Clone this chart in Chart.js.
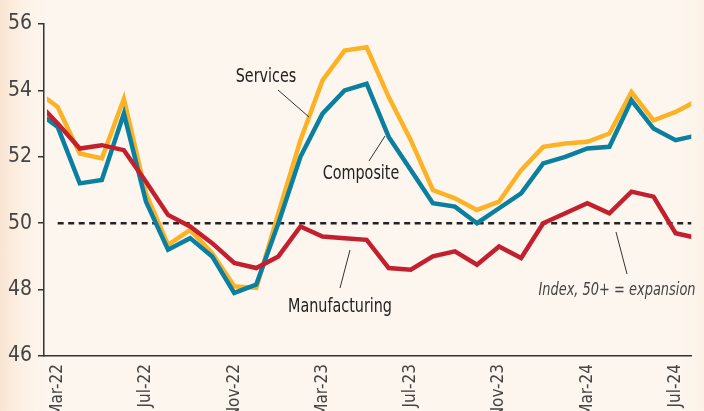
<!DOCTYPE html>
<html>
<head>
<meta charset="utf-8">
<script src="https://cdn.jsdelivr.net/npm/chart.js@4.4.1/dist/chart.umd.min.js"></script>
<style>
  html, body { margin: 0; padding: 0; }
  body {
    width: 704px; height: 411px; overflow: hidden;
    background: linear-gradient(to right, #f9e5d1 0px, #fcf1e6 22px, #fdf6ef 50px, #fdf6ef 675px, #fcf2e8 704px);
  }
</style>
</head>
<body>
<canvas id="pmiChart" width="704" height="411"></canvas>
<script>
// monthly PMI readings, Feb-22 .. Aug-24 (first and last are cut by the frame)
const months = ['Feb-22', 'Mar-22', 'Apr-22', 'May-22', 'Jun-22', 'Jul-22', 'Aug-22', 'Sep-22', 'Oct-22', 'Nov-22', 'Dec-22',
  'Jan-23', 'Feb-23', 'Mar-23', 'Apr-23', 'May-23', 'Jun-23', 'Jul-23', 'Aug-23', 'Sep-23', 'Oct-23', 'Nov-23', 'Dec-23',
  'Jan-24', 'Feb-24', 'Mar-24', 'Apr-24', 'May-24', 'Jun-24', 'Jul-24', 'Aug-24'];

const services = [54.0, 53.5, 52.1, 51.95, 53.75, 50.9, 49.35, 49.8, 49.1, 48.1, 48.05,
  50.3, 52.5, 54.3, 55.2, 55.3, 53.8, 52.5, 51.0, 50.75, 50.4, 50.65, 51.6,
  52.3, 52.4, 52.45, 52.7, 53.95, 53.1, 53.35, 53.7];

const composite = [53.4, 52.9, 51.2, 51.3, 53.3, 50.65, 49.2, 49.55, 49.0, 47.9, 48.15,
  50.0, 52.0, 53.3, 54.0, 54.2, 52.6, 51.6, 50.6, 50.5, 50.0, 50.45, 50.9,
  51.8, 52.0, 52.25, 52.3, 53.7, 52.85, 52.5, 52.65];

const manufacturing = [53.7, 53.0, 52.25, 52.35, 52.2, 51.25, 50.25, 49.9, 49.4, 48.8, 48.65,
  49.0, 49.9, 49.6, 49.55, 49.5, 48.65, 48.6, 49.0, 49.15, 48.75, 49.3, 48.95,
  50.0, 50.3, 50.6, 50.3, 50.95, 50.8, 49.7, 49.55];

const threshold = 50;
const yTicks = [46, 48, 50, 52, 54, 56];
const xTickMonths = ['Mar-22', 'Jul-22', 'Nov-22', 'Mar-23', 'Jul-23', 'Nov-23', 'Mar-24', 'Jul-24'];

const FONT = "'Liberation Sans Narrow', 'DejaVu Sans Condensed', 'Noto Sans', sans-serif";
const toPoints = arr => arr.map((v, i) => ({ x: i, y: v }));

// labels and leader lines drawn over the plot
const notes = [
  { text: 'Services', x: 266, y: 82, line: [278, 90, 309, 117] },
  { text: 'Composite', x: 361, y: 179, line: [385, 136, 369, 161] },
  { text: 'Manufacturing', x: 340, y: 312, line: [350, 250, 340, 288] },
  { text: 'Index, 50+ = expansion', x: 617, y: 295, line: [616, 232, 627, 274], italic: true }
];

const notesPlugin = {
  id: 'notes',
  afterDatasetsDraw(chart) {
    const ctx = chart.ctx;
    notes.forEach(n => {
      ctx.save();
      ctx.strokeStyle = '#333';
      ctx.lineWidth = 1;
      ctx.beginPath();
      ctx.moveTo(n.line[0], n.line[1]);
      ctx.lineTo(n.line[2], n.line[3]);
      ctx.stroke();
      ctx.textAlign = 'center';
      ctx.textBaseline = 'alphabetic';
      ctx.fillStyle = n.italic ? '#444' : '#222';
      ctx.font = (n.italic ? 'italic 18px ' : '19px ') + FONT;
      // squeeze to match the condensed face of the original
      ctx.translate(n.x, n.y);
      ctx.scale(n.italic ? 0.8 : 0.84, 1);
      ctx.fillText(n.text, 0, 0);
      ctx.restore();
    });
  }
};

const lineStyle = (color) => ({
  borderColor: color,
  borderWidth: 4.5,
  pointRadius: 0,
  tension: 0,
  borderJoinStyle: 'miter',
  clip: { left: -3, top: 10, right: 0, bottom: 10 }
});

new Chart(document.getElementById('pmiChart'), {
  type: 'line',
  data: {
    datasets: [
      { label: 'Manufacturing', data: toPoints(manufacturing), ...lineStyle('#c3202f') },
      { label: 'Composite', data: toPoints(composite), ...lineStyle('#0a7fa0') },
      { label: 'Services', data: toPoints(services), ...lineStyle('#fbb325') },
      {
        label: 'threshold',
        data: [{ x: 1, y: threshold }, { x: months.length - 1, y: threshold }],
        borderColor: '#222',
        borderWidth: 2.5,
        borderDash: [6, 4.5],
        pointRadius: 0
      }
    ]
  },
  options: {
    responsive: false,
    animation: false,
    layout: { padding: { top: 24, right: 0, left: 0, bottom: 0 } },
    plugins: {
      legend: { display: false },
      tooltip: { enabled: false }
    },
    scales: {
      x: {
        type: 'linear',
        min: 0.38,
        max: 29.71,
        grid: { display: false, drawTicks: false },
        border: { display: true, color: '#333', width: 1.5 },
        afterBuildTicks: s => { s.ticks = xTickMonths.map(m => ({ value: months.indexOf(m) })); },
        ticks: {
          autoSkip: false,
          minRotation: 90,
          maxRotation: 90,
          padding: 8,
          color: '#444',
          font: { family: FONT, size: 17 },
          callback: v => months[v]
        },
        afterFit: s => { s.height = 55; }
      },
      y: {
        min: 46,
        max: 56,
        afterBuildTicks: s => { s.ticks = yTicks.map(v => ({ value: v })); },
        grid: { drawOnChartArea: false, tickLength: 6, color: '#333', lineWidth: 1.5 },
        border: { color: '#333', width: 1.5 },
        ticks: { padding: 6, color: '#444', font: { family: FONT, size: 21 } },
        afterFit: s => { s.width = 44; }
      }
    }
  },
  plugins: [notesPlugin]
});
</script>
</body>
</html>
